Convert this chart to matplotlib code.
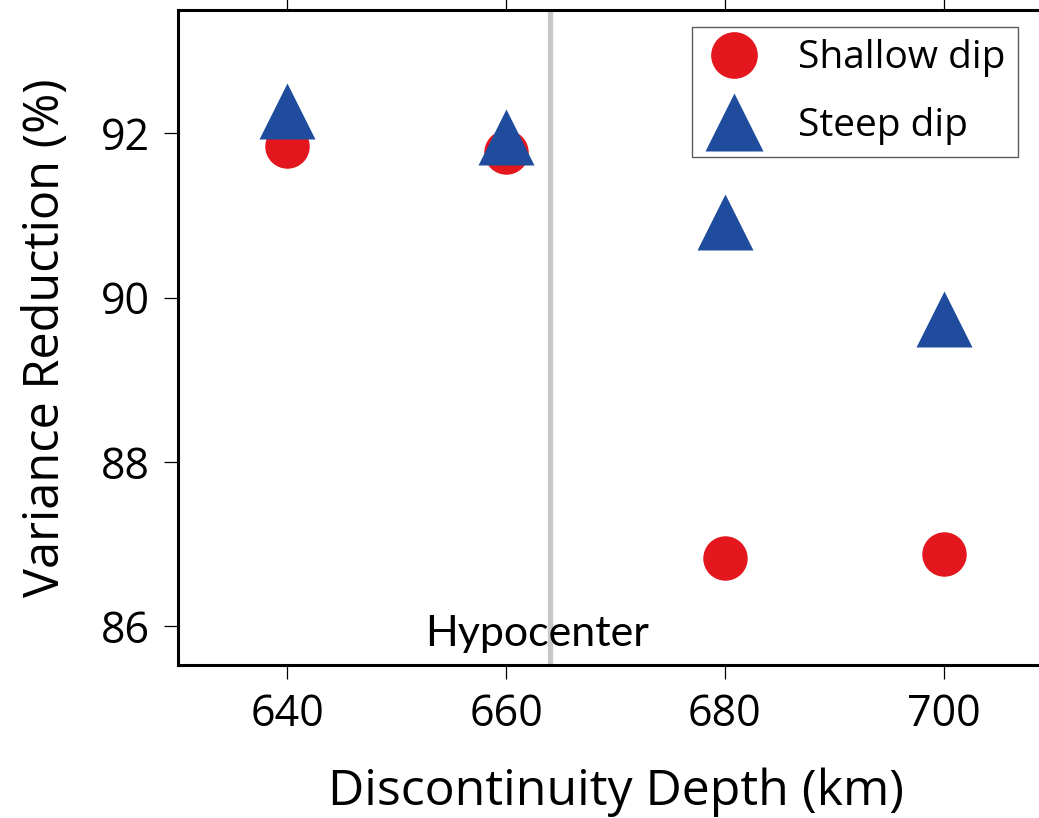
import matplotlib
matplotlib.use("Agg")
import matplotlib.pyplot as plt

depths = [640, 660, 680, 700]
shallow_vr = [91.85, 91.77, 86.83, 86.88]
steep_vr = [92.27, 91.95, 90.92, 89.74]
xticks = [640, 660, 680, 700]
yticks = [86, 88, 90, 92]
hypocenter_depth = 664

plt.rcParams['font.family'] = ['Open Sans', 'DejaVu Sans']

fig = plt.figure(figsize=(10.39, 8.18), dpi=100)
ax = fig.add_axes([178/1039, 1 - 665/818, (1053-178)/1039, (665-10)/818])

ax.axvline(hypocenter_depth, color='#c8c8c8', lw=3.8, zorder=1)
ax.plot(depths, shallow_vr, 'o', ms=32, color='#E3171D', mec='none', label='Shallow dip', zorder=3)
ax.plot(depths, steep_vr, '^', ms=40, color='#1F4C9C', mec='none', label='Steep dip', zorder=4)

ax.set_xlim(630, 710)
ax.set_ylim(85.53, 93.5)
ax.set_xticks(xticks)
ax.set_yticks(yticks)
ax.tick_params(direction='out', length=10, width=0.9, labelsize=31, pad=10,
               top=True, right=False)
for s in ax.spines.values():
    s.set_linewidth(2.2)

ax.set_xlabel('Discontinuity Depth (km)', fontsize=36, labelpad=22)
ax.set_ylabel('Variance Reduction (%)', fontsize=35, labelpad=22)

ax.text(662.8, 85.76, 'Hypocenter', fontsize=31, ha='center', va='baseline',
        family=['Lato', 'DejaVu Sans'], zorder=2)

leg = ax.legend(loc='upper left', bbox_to_anchor=(692/1039, 1 - 27/818),
                bbox_transform=fig.transFigure, fontsize=28, frameon=True,
                fancybox=False, edgecolor='#333333', borderpad=0.32,
                handletextpad=0.9, labelspacing=0.75, markerscale=1.05,
                handlelength=1.5, borderaxespad=0)
leg.get_frame().set_linewidth(1.0)

fig.savefig('out.png', dpi=100)
